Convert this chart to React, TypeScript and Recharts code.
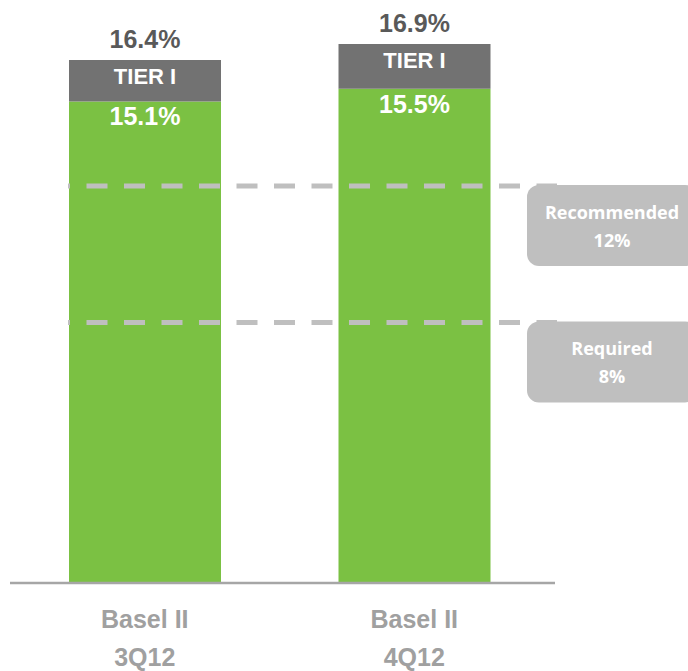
import { BarChart, Bar, XAxis, YAxis, ReferenceLine, LabelList } from 'recharts'

const regimes = ['Basel II', 'Basel II']
const periods = ['3Q12', '4Q12']
const tierOne = [15.1, 15.5]
const totalRatio = [16.4, 16.9]
const tierLabel = 'TIER I'

const recommendedLevel = 12.45
const recommendedText = ['Recommended', '12%']
const requiredLevel = 8.17
const requiredText = ['Required', '8%']

const data = periods.map((p, i) => ({
  name: `${regimes[i]}|${p}`,
  tier1: tierOne[i],
  rest: +(totalRatio[i] - tierOne[i]).toFixed(1),
  total: totalRatio[i],
}))

const narrow = '"Liberation Sans Narrow", "Arial Narrow", "Liberation Sans", sans-serif'
const boxFont = '"Open Sans", sans-serif'

function CategoryTick(props: any) {
  const { x, y, payload } = props
  const [top, bottom] = String(payload.value).split('|')
  return (
    <g fill="#a0a0a0" fontFamily={narrow} fontWeight="bold" fontSize={25} textAnchor="middle">
      <text x={x} y={y + 37}>{top}</text>
      <text x={x} y={y + 75}>{bottom}</text>
    </g>
  )
}

function boxLabel(lines: string[]) {
  return (props: any) => {
    const vb = props.viewBox
    const left = vb.x + vb.width - 28
    const top = vb.y - 1
    return (
      <g>
        <rect x={left} y={top} width={170} height={81} rx={12} fill="#bfbfbf" />
        <text x={left + 85} y={top + 34} textAnchor="middle" fill="#fff" fontFamily={boxFont} fontWeight="bold" fontSize={18}>{lines[0]}</text>
        <text x={left + 85} y={top + 62} textAnchor="middle" fill="#fff" fontFamily={boxFont} fontWeight="bold" fontSize={18}>{lines[1]}</text>
      </g>
    )
  }
}

function DashLine(props: any) {
  // starts at the left edge of the first bar, runs a little past the axis end
  const { x1, x2, y1 } = props
  return (
    <line x1={x1 + 58} x2={x2 + 2} y1={y1} y2={y1} stroke="#bfbfbf" strokeWidth={5} strokeDasharray="21 16.5" strokeDashoffset={-18.5} />
  )
}

export default function App() {
  return (
    <div style={{ position: 'absolute', left: 0, top: 0, width: 688, height: 671, background: '#fff' }}>
      <BarChart width={688} height={671} data={data} margin={{ top: 9, right: 133, left: 10, bottom: 28 }} barSize={152}>
        <XAxis
          dataKey="name"
          height={60}
          padding={{ left: 0, right: 6 }}
          axisLine={{ stroke: '#a6a6a6', strokeWidth: 2.5 }}
          tickLine={false}
          tick={<CategoryTick />}
          interval={0}
        />
        <YAxis hide domain={[0, 18]} />
        <Bar dataKey="tier1" stackId="a" fill="#7bc143" isAnimationActive={false}>
          <LabelList
            dataKey="tier1"
            content={(p: any) => (
              <text x={p.x + p.width / 2} y={p.y + 24} textAnchor="middle" fill="#fff" fontFamily={narrow} fontWeight="bold" fontSize={25}>
                {`${p.value}%`}
              </text>
            )}
          />
        </Bar>
        <Bar dataKey="rest" stackId="a" fill="#727272" isAnimationActive={false}>
          <LabelList
            dataKey="rest"
            content={(p: any) => (
              <text x={p.x + p.width / 2} y={p.y + 24} textAnchor="middle" fill="#fff" fontFamily={narrow} fontWeight="bold" fontSize={22}>
                {tierLabel}
              </text>
            )}
          />
          <LabelList
            dataKey="total"
            content={(p: any) => (
              <text x={p.x + p.width / 2} y={p.y - 12} textAnchor="middle" fill="#595959" fontFamily={narrow} fontWeight="bold" fontSize={25}>
                {`${p.value}%`}
              </text>
            )}
          />
        </Bar>
        <ReferenceLine y={recommendedLevel} ifOverflow="visible" shape={<DashLine />} label={boxLabel(recommendedText)} />
        <ReferenceLine y={requiredLevel} ifOverflow="visible" shape={<DashLine />} label={boxLabel(requiredText)} />
      </BarChart>
    </div>
  )
}
